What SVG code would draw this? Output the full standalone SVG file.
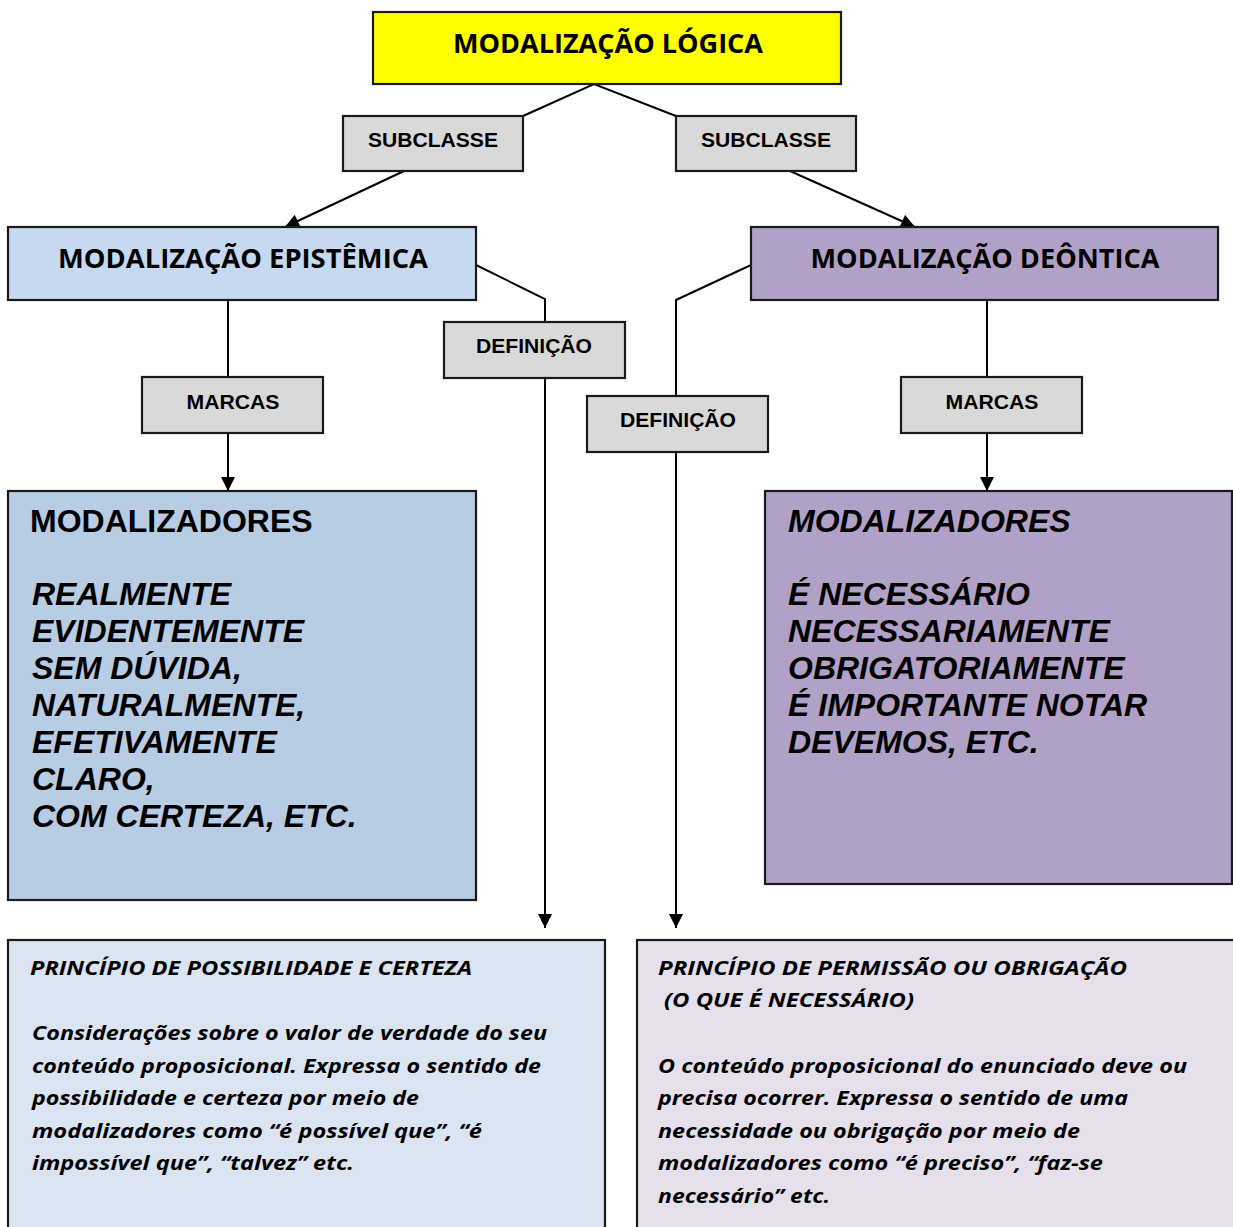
<svg xmlns="http://www.w3.org/2000/svg" width="1233" height="1227" viewBox="0 0 1233 1227">
<style>
.box{stroke:#1a1a1a;stroke-width:2.2}
.grey{fill:#D9D9D9}
.cal{font-family:"Open Sans","Noto Sans",sans-serif;font-weight:bold;fill:#000}
.ari{font-family:"Liberation Sans",Arial,sans-serif;font-weight:bold;fill:#000}
.lab{font-size:20px;text-anchor:middle}
.big{font-size:32px}
.it{font-style:italic}
.para{font-size:20px;font-style:italic}
.conn{fill:none;stroke:#000;stroke-width:2}
</style>
<defs>
<marker id="arr" viewBox="0 0 10 10" markerWidth="16" markerHeight="14" refX="10" refY="5" orient="auto" markerUnits="userSpaceOnUse">
<path d="M0,0 L10,5 L0,10 z" fill="#000"/>
</marker>
</defs>
<g id="connectors">
<path class="conn" d="M523,116 L594,84 L676,116"/>
<path class="conn" d="M404,171 L285,227" marker-end="url(#arr)"/>
<path class="conn" d="M790,171 L915,227" marker-end="url(#arr)"/>
<path class="conn" d="M228,300 L228,377"/>
<path class="conn" d="M228,433 L228,491" marker-end="url(#arr)"/>
<path class="conn" d="M987,300 L987,377"/>
<path class="conn" d="M987,433 L987,491" marker-end="url(#arr)"/>
<path class="conn" d="M476,265 L545,299 L545,322"/>
<path class="conn" d="M545,378 L545,928" marker-end="url(#arr)"/>
<path class="conn" d="M751,265 L676,300 L676,396"/>
<path class="conn" d="M676,452 L676,928" marker-end="url(#arr)"/>
</g>
<g id="logica">
<rect class="box" x="373" y="12" width="468" height="72" fill="#FFFF00"/>
<text class="cal" x="608" y="53" font-size="26" text-anchor="middle" textLength="310" lengthAdjust="spacingAndGlyphs">MODALIZAÇÃO LÓGICA</text>
</g>
<g id="subclasse-esq">
<rect class="box grey" x="343" y="116" width="180" height="55"/>
<text class="ari lab" x="433" y="147" textLength="130" lengthAdjust="spacingAndGlyphs">SUBCLASSE</text>
</g>
<g id="subclasse-dir">
<rect class="box grey" x="676" y="116" width="180" height="55"/>
<text class="ari lab" x="766" y="147" textLength="130" lengthAdjust="spacingAndGlyphs">SUBCLASSE</text>
</g>
<g id="epistemica">
<rect class="box" x="8" y="227" width="468" height="73" fill="#C6D9F1"/>
<text class="cal" x="243" y="268" font-size="26" text-anchor="middle" textLength="370" lengthAdjust="spacingAndGlyphs">MODALIZAÇÃO EPISTÊMICA</text>
</g>
<g id="deontica">
<rect class="box" x="751" y="227" width="467" height="73" fill="#B2A1C7"/>
<text class="cal" x="985" y="268" font-size="26" text-anchor="middle" textLength="349" lengthAdjust="spacingAndGlyphs">MODALIZAÇÃO DEÔNTICA</text>
</g>
<g id="marcas-esq">
<rect class="box grey" x="142" y="377" width="181" height="56"/>
<text class="ari lab" x="233" y="409" textLength="93" lengthAdjust="spacingAndGlyphs">MARCAS</text>
</g>
<g id="marcas-dir">
<rect class="box grey" x="901" y="377" width="181" height="56"/>
<text class="ari lab" x="992" y="409" textLength="93" lengthAdjust="spacingAndGlyphs">MARCAS</text>
</g>
<g id="definicao-esq">
<rect class="box grey" x="444" y="322" width="181" height="56"/>
<text class="ari lab" x="534" y="353" textLength="116" lengthAdjust="spacingAndGlyphs">DEFINIÇÃO</text>
</g>
<g id="definicao-dir">
<rect class="box grey" x="587" y="396" width="181" height="56"/>
<text class="ari lab" x="678" y="427" textLength="116" lengthAdjust="spacingAndGlyphs">DEFINIÇÃO</text>
</g>
<g id="modalizadores-epistemicos">
<rect class="box" x="8" y="491" width="468" height="409" fill="#B8CCE4"/>
<text class="ari big" x="30" y="532">MODALIZADORES</text>
<text class="ari big it" x="32" y="605">REALMENTE</text>
<text class="ari big it" x="32" y="642">EVIDENTEMENTE</text>
<text class="ari big it" x="32" y="679">SEM DÚVIDA,</text>
<text class="ari big it" x="32" y="716">NATURALMENTE,</text>
<text class="ari big it" x="32" y="753">EFETIVAMENTE</text>
<text class="ari big it" x="32" y="790">CLARO,</text>
<text class="ari big it" x="32" y="827">COM CERTEZA, ETC.</text>
</g>
<g id="modalizadores-deonticos">
<rect class="box" x="765" y="491" width="467" height="393" fill="#B2A1C7"/>
<text class="ari big it" x="788" y="532">MODALIZADORES</text>
<text class="ari big it" x="788" y="605">É NECESSÁRIO</text>
<text class="ari big it" x="788" y="642">NECESSARIAMENTE</text>
<text class="ari big it" x="788" y="679">OBRIGATORIAMENTE</text>
<text class="ari big it" x="788" y="716">É IMPORTANTE NOTAR</text>
<text class="ari big it" x="788" y="753">DEVEMOS, ETC.</text>
</g>
<g id="principio-epistemico">
<rect class="box" x="8" y="940" width="597" height="300" fill="#DBE5F1"/>
<text class="cal para" x="30" y="975" textLength="442" lengthAdjust="spacingAndGlyphs">PRINCÍPIO DE POSSIBILIDADE E CERTEZA</text>
<text class="cal para" x="32" y="1040" textLength="515" lengthAdjust="spacingAndGlyphs">Considerações sobre o valor de verdade do seu</text>
<text class="cal para" x="32" y="1073" textLength="509" lengthAdjust="spacingAndGlyphs">conteúdo proposicional. Expressa o sentido de</text>
<text class="cal para" x="32" y="1105" textLength="387" lengthAdjust="spacingAndGlyphs">possibilidade e certeza por meio de</text>
<text class="cal para" x="32" y="1138" textLength="450" lengthAdjust="spacingAndGlyphs">modalizadores como “é possível que”, “é</text>
<text class="cal para" x="32" y="1170" textLength="322" lengthAdjust="spacingAndGlyphs">impossível que”, “talvez” etc.</text>
</g>
<g id="principio-deontico">
<rect class="box" x="637" y="940" width="605" height="300" fill="#E5E0EC"/>
<text class="cal para" x="658" y="975" textLength="469" lengthAdjust="spacingAndGlyphs">PRINCÍPIO DE PERMISSÃO OU OBRIGAÇÃO</text>
<text class="cal para" x="664" y="1007" textLength="250" lengthAdjust="spacingAndGlyphs">(O QUE É NECESSÁRIO)</text>
<text class="cal para" x="658" y="1073" textLength="529" lengthAdjust="spacingAndGlyphs">O conteúdo proposicional do enunciado deve ou</text>
<text class="cal para" x="658" y="1105" textLength="470" lengthAdjust="spacingAndGlyphs">precisa ocorrer. Expressa o sentido de uma</text>
<text class="cal para" x="658" y="1138" textLength="422" lengthAdjust="spacingAndGlyphs">necessidade ou obrigação por meio de</text>
<text class="cal para" x="658" y="1170" textLength="445" lengthAdjust="spacingAndGlyphs">modalizadores como “é preciso”, “faz-se</text>
<text class="cal para" x="658" y="1203" textLength="172" lengthAdjust="spacingAndGlyphs">necessário” etc.</text>
</g>
</svg>
